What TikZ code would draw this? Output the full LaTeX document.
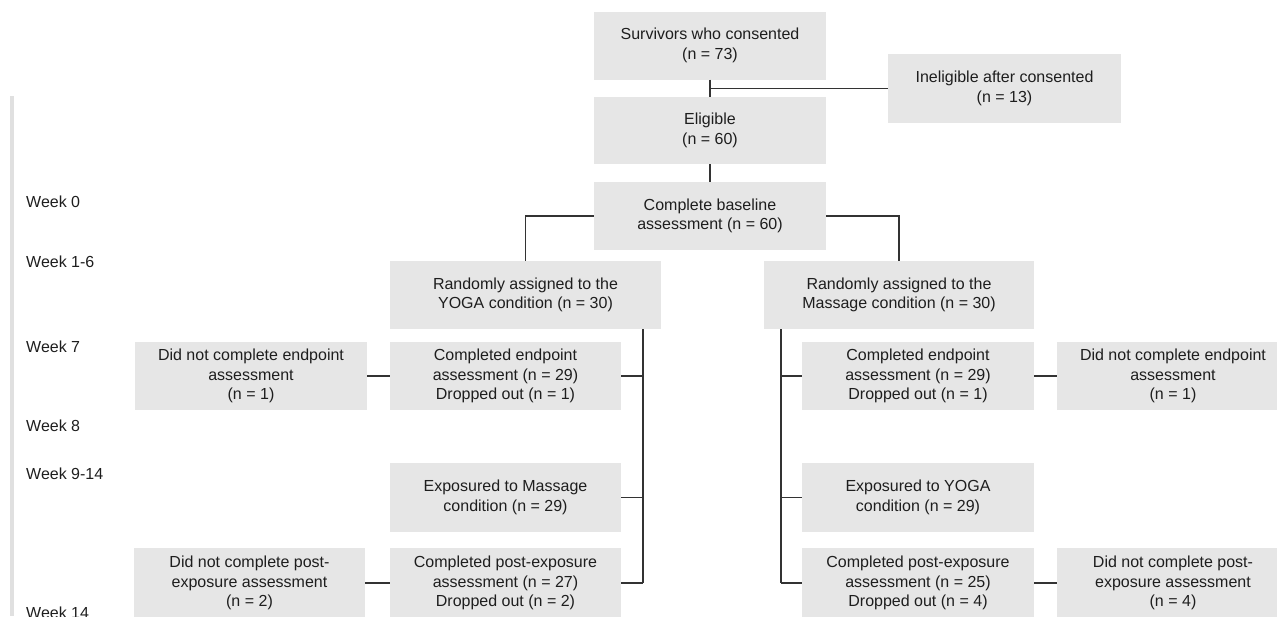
\documentclass[tikz,border=0pt]{standalone}
\usepackage{fontspec}
\setmainfont{Liberation Sans}
\definecolor{boxgray}{HTML}{E6E6E6}
\definecolor{txt}{HTML}{1E1E1E}
\definecolor{ln}{HTML}{333333}
\definecolor{bar}{HTML}{E0E0E0}
\begin{document}
\begin{tikzpicture}[x=1pt,y=-1pt,
  box/.style={fill=boxgray, draw=none, inner sep=0pt, align=center, text=txt,
    minimum width=232pt, minimum height=68pt,
    font=\fontsize{16}{19.3}\selectfont},
  wide/.style={minimum width=271pt},
  wk/.style={anchor=west, inner sep=0pt, text=txt, font=\fontsize{16}{19.3}\selectfont},
  con/.style={draw=ln, line width=1.2pt}]
\useasboundingbox (0,0) rectangle (1277,616);
\begin{scope}
\clip (0,0) rectangle (1277,616);
% timeline bar
\draw[bar, line width=4.5pt] (12,96) -- (12,616);
% week labels
\node[wk] (w0) at (26,202) {Week 0};
\node[wk] (w1) at (26,262) {Week 1-6};
\node[wk] (w7) at (26,347) {Week 7};
\node[wk] (w8) at (26,426) {Week 8};
\node[wk] (w9) at (26,474) {Week 9-14};
\node[wk] (w14) at (26,613) {Week 14};
% boxes
\node[box] (surv) at (710,45.5) {Survivors who consented\\(n = 73)};
\node[box, minimum width=233pt, minimum height=69pt] (inel) at (1004.5,88.5) {Ineligible after consented\\(n = 13)};
\node[box, minimum height=67pt] (elig) at (710,130.5) {Eligible\\(n = 60)};
\node[box] (base) at (710,216) {Complete baseline\\assessment (n = 60)};
\node[box, wide] (yoga) at (525.5,295) {Randomly assigned to the\\YOGA condition (n = 30)};
\node[box, minimum width=270pt] (mass) at (899,295) {Randomly assigned to the\\Massage condition (n = 30)};
% left branch
\node[box, minimum width=231pt] (lce) at (505.5,376) {Completed endpoint\\assessment (n = 29)\\Dropped out (n = 1)};
\node[box] (ldn1) at (251,376) {Did not complete endpoint\\assessment\\(n = 1)};
\node[box, minimum width=231pt, minimum height=69pt] (lexp) at (505.5,497.5) {Exposured to Massage\\condition (n = 29)};
\node[box, minimum width=231pt, minimum height=70pt] (lcp) at (505.5,583) {Completed post-exposure\\assessment (n = 27)\\Dropped out (n = 2)};
\node[box, minimum width=231pt, minimum height=70pt] (ldn2) at (249.5,583) {Did not complete post-\\exposure assessment\\(n = 2)};
% right branch
\node[box] (rce) at (918,376) {Completed endpoint\\assessment (n = 29)\\Dropped out (n = 1)};
\node[box] (rdn1) at (1173,376) {Did not complete endpoint\\assessment\\(n = 1)};
\node[box, minimum height=69pt] (rexp) at (918,497.5) {Exposured to YOGA\\condition (n = 29)};
\node[box, minimum height=70pt] (rcp) at (918,583) {Completed post-exposure\\assessment (n = 25)\\Dropped out (n = 4)};
\node[box, minimum height=70pt] (rdn2) at (1173,583) {Did not complete post-\\exposure assessment\\(n = 4)};
% bus coordinates
\coordinate (lbus) at (643,0);
\coordinate (rbus) at (781,0);
\coordinate (tick) at (710,88.5);
% connectors
\draw[con] (surv.south) -- (elig.north);
\draw[con] (tick) -- (inel.west);
\draw[con] (elig.south) -- (base.north);
\draw[con] (base.west) -| (yoga.north);
\draw[con] (base.east) -| (mass.north);
\draw[con] (yoga.south -| lbus) -- (lcp.east -| lbus);
\draw[con] (lce.east) -- (lce.east -| lbus);
\draw[con] (lexp.east) -- (lexp.east -| lbus);
\draw[con] (lcp.east) -- (lcp.east -| lbus);
\draw[con] (ldn1.east) -- (lce.west);
\draw[con] (ldn2.east) -- (lcp.west);
\draw[con] (mass.south -| rbus) -- (rcp.west -| rbus);
\draw[con] (rce.west) -- (rce.west -| rbus);
\draw[con] (rexp.west) -- (rexp.west -| rbus);
\draw[con] (rcp.west) -- (rcp.west -| rbus);
\draw[con] (rce.east) -- (rdn1.west);
\draw[con] (rcp.east) -- (rdn2.west);
\end{scope}
\end{tikzpicture}
\end{document}
